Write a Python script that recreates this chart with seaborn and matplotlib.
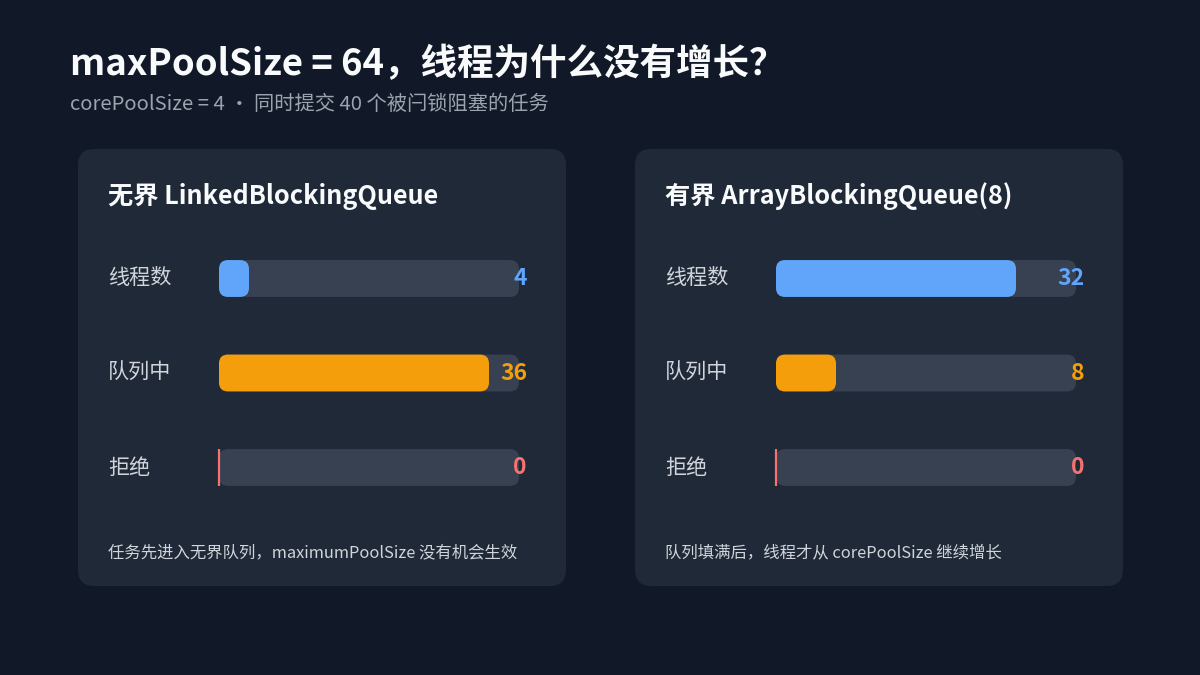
import matplotlib
matplotlib.use("Agg")
import matplotlib.pyplot as plt
import seaborn as sns
from matplotlib.patches import FancyBboxPatch

sns.set_theme(style="white")
plt.rcParams['font.family'] = ['Noto Sans CJK SC', 'DejaVu Sans']

# ---------------- data ----------------
title = "maxPoolSize = 64，线程为什么没有增长？"
subtitle = "corePoolSize = 4 · 同时提交 40 个被闩锁阻塞的任务"
metrics = ["线程数", "队列中", "拒绝"]
panel_titles = ["无界 LinkedBlockingQueue", "有界 ArrayBlockingQueue(8)"]
unbounded_values = [4, 36, 0]
bounded_values = [32, 8, 0]
total_tasks = 40
footnotes = ["任务先进入无界队列，maximumPoolSize 没有机会生效",
             "队列填满后，线程才从 corePoolSize 继续增长"]

# ---------------- style ----------------
BG = "#111827"
PANEL = "#1f2937"
TRACK = "#374151"
bar_colors = ["#60a5fa", "#f59e0b", "#f87171"]

W, H = 1200, 675
fig = plt.figure(figsize=(W / 100, H / 100), dpi=100, facecolor=BG)
bg = fig.add_axes([0, 0, 1, 1])
bg.set_xlim(0, W)
bg.set_ylim(H, 0)
bg.axis('off')
bg.set_facecolor(BG)

bg.text(70, 65, title, fontsize=26.3, fontweight='bold', color='#f9fafb',
        va='center', ha='left')
bg.text(70, 104, subtitle, fontsize=14.6, color='#9ca3af', va='center', ha='left',
        fontweight='light')

PX_PER_PT = 100 / 72


def round_bars(ax, radius_px=9):
    x0l, x1l = ax.get_xlim()
    y0l, y1l = ax.get_ylim()
    x_per_px = (x1l - x0l) / ax.bbox.width
    y_per_px = abs(y1l - y0l) / ax.bbox.height
    aspect = y_per_px / x_per_px
    for p in list(ax.patches):
        x, y, w, h = p.get_x(), p.get_y(), p.get_width(), p.get_height()
        fc = p.get_facecolor()
        p.set_visible(False)
        if w <= 1e-9:
            ax.plot([x, x], [y, y + h], color=fc, lw=1.6, solid_capstyle='butt',
                    zorder=4, clip_on=False)
            continue
        r = min(radius_px * x_per_px, w / 2)
        ax.add_patch(FancyBboxPatch((x, y), w, h,
                                    boxstyle=f"round,pad=0,rounding_size={r}",
                                    mutation_aspect=aspect, fc=fc, ec='none', zorder=3))


panel_x = [78, 635]
for i, (px, vals) in enumerate(zip(panel_x, [unbounded_values, bounded_values])):
    bg.add_patch(FancyBboxPatch((px, 149), 488, 437,
                                boxstyle="round,pad=0,rounding_size=16",
                                fc=PANEL, ec='none'))
    bg.text(px + 30, 196, panel_titles[i], fontsize=18.2, fontweight='bold',
            color='#f9fafb', va='center', ha='left')
    bg.text(px + 30, 553, footnotes[i], fontsize=11.8, color='#d1d5db',
            va='center', ha='left')

    track_left = px + 141
    track_w = 300
    row_c0, row_step = 278.5, 94.5
    top = row_c0 - row_step / 2
    ax = fig.add_axes([track_left / W, 1 - (top + 3 * row_step) / H,
                       track_w / W, 3 * row_step / H])
    ax.patch.set_alpha(0)

    sns.barplot(x=[total_tasks] * len(metrics), y=metrics, color=TRACK,
                saturation=1, width=0.39, orient='h', ax=ax)
    sns.barplot(x=vals, y=metrics, hue=metrics, palette=bar_colors,
                saturation=1, width=0.39, orient='h', legend=False, ax=ax)
    ax.set_xlim(0, total_tasks)
    ax.set_ylim(2.5, -0.5)
    ax.set_xlabel('')
    ax.set_ylabel('')
    ax.set_xticks([])
    for s in ax.spines.values():
        s.set_visible(False)
    ax.tick_params(axis='y', length=0, pad=(track_left - (px + 30)) / PX_PER_PT,
                   labelsize=15.2, labelcolor='#d1d5db')
    for lbl in ax.get_yticklabels():
        lbl.set_ha('left')
        lbl.set_va('center')

    round_bars(ax)

    for j, v in enumerate(vals):
        ax.annotate(str(v), xy=(total_tasks, j), xytext=(8 / PX_PER_PT, 0),
                    textcoords='offset points', ha='right', va='center',
                    color=bar_colors[j], fontsize=16.5, fontweight='bold',
                    annotation_clip=False, zorder=5)

fig.savefig("out.png", dpi=100, facecolor=BG)
